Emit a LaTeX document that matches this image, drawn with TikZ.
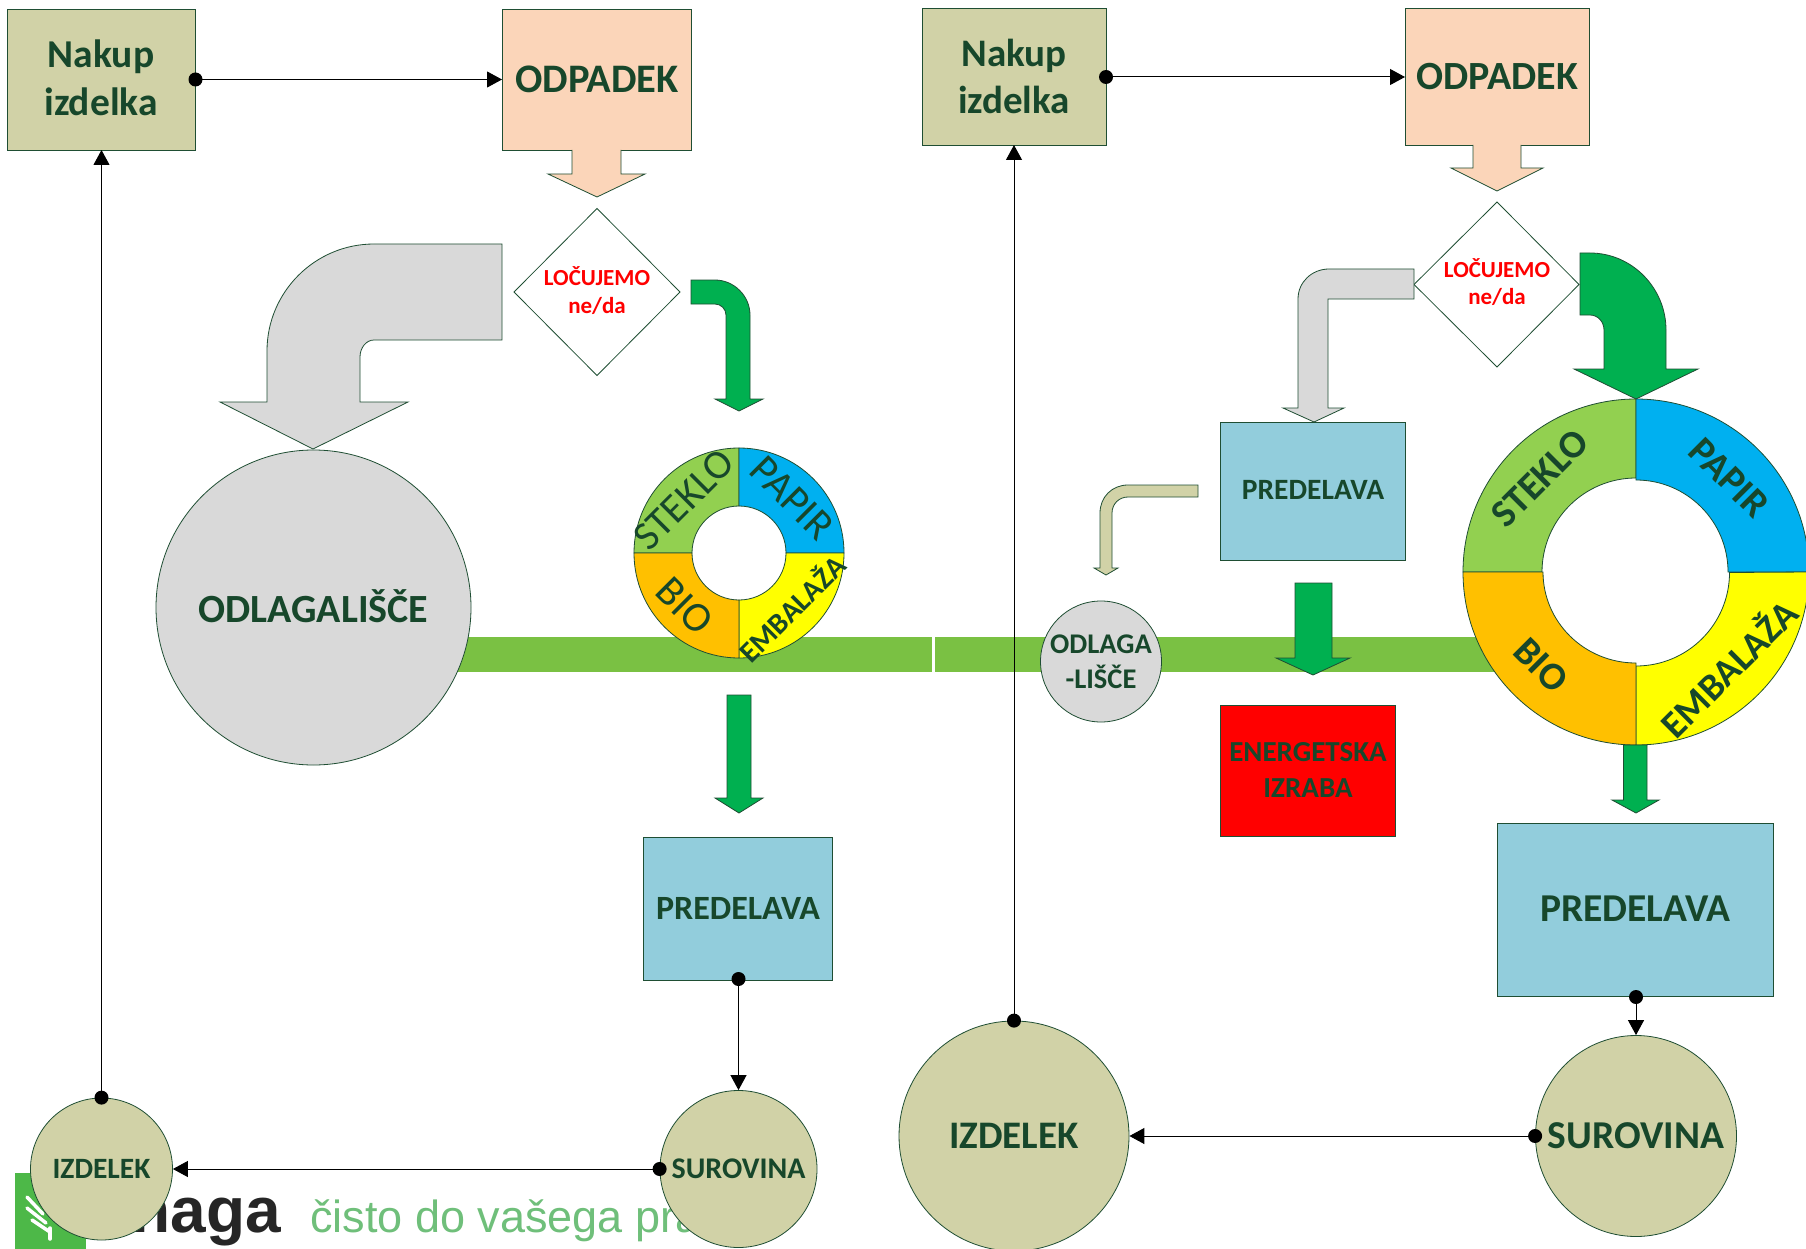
\documentclass[tikz,border=0pt]{standalone}
\usepackage{fontspec}
\setmainfont{Carlito}
\newfontfamily\logofont{Liberation Sans}
\usetikzlibrary{arrows.meta,shapes.geometric}
\definecolor{edge}{HTML}{1F4E33}
\definecolor{ink}{HTML}{17472B}
\definecolor{beige}{HTML}{D1D2A7}
\definecolor{peach}{HTML}{FBD5B9}
\definecolor{steel}{HTML}{92CDDC}
\definecolor{lgray}{HTML}{D9D9D9}
\definecolor{agreen}{HTML}{00B050}
\definecolor{band}{HTML}{7AC143}
\definecolor{slogan}{HTML}{6FBF7A}
\definecolor{logogreen}{HTML}{4DB848}
\definecolor{lime}{RGB}{146,208,80}
\definecolor{sky}{RGB}{0,176,240}
\definecolor{amber}{RGB}{255,192,0}
\definecolor{yell}{RGB}{255,255,0}
\definecolor{pure}{RGB}{255,0,0}
\newcommand{\fs}[1]{\fontsize{#1}{#1}\selectfont}
\tikzset{
  x=1pt,y=-1pt,
  rnd/.style={draw=edge,line width=0.8pt,circle,inner sep=0pt,minimum size=#1,align=center,font=\bfseries,text=ink},
  blk/.style={draw=edge,line width=0.8pt},
  label/.style={text=ink,font=\bfseries,inner sep=0pt,align=center},
  conn/.style={draw=black,line width=1pt},
  dot/.style={circle,fill=black,inner sep=0pt,minimum size=14pt},
  head/.style={-{Triangle[length=15pt,width=16pt]}},
  seg/.style={draw=edge,line width=0.8pt},
  ring/.style={text=ink,inner sep=0pt},
  choice/.style={draw=edge,line width=0.8pt,fill=white},
  redlabel/.style={text=pure,font=\bfseries,inner sep=0pt,anchor=base}
}
\begin{document}
\begin{tikzpicture}
\useasboundingbox (0,0) rectangle (1806,1249);
\fill[white] (0,0) rectangle (1806,1249);

% band
\fill[band] (313,637) rectangle (932,672);
\fill[band] (935,637) rectangle (1500,672);

% logo
\fill[logogreen] (15,1173) rectangle (86,1249);
\draw[white,line width=3.5pt,line cap=round] (27,1197) -- (43,1214);
\draw[white,line width=3.5pt,line cap=round] (27,1208) -- (46,1223);
\draw[white,line width=3.5pt,line cap=round] (32,1220) -- (50,1232);
\draw[white,line width=3.5pt,line cap=round] (50,1228) -- (50,1239);
\node[inner sep=0pt,anchor=base east,text=black!85] (logoname) at (281,1232) {\logofont\bfseries\fs{64}Snaga};
\node[inner sep=0pt,anchor=base west,text=slogan] (logotext) at (310,1232) {\logofont\fs{45}čisto do vašega pra};

% left boxes
\path[blk,fill=beige] (7,9) rectangle (195.5,150);
\node[label,font=\bfseries\fontsize{39.5}{48}\selectfont] (nakA) at (101,78) {Nakup\\izdelka};
\path[blk,fill=peach] (502,9) rectangle (691,150);
\node[label] (odpA) at (597,79.5) {\fs{40.5}ODPADEK};
\coordinate (nakAr) at (195.5,79.5);
\coordinate (odpAl) at (502,79.5);
\coordinate (nakAb) at (101.5,150);
\path[blk,fill=peach] (572,150) -- (572,174) -- (548,174) -- (597,197) -- (645,174) -- (621,174) -- (621,150);
\path[choice] (597,208.5) -- (680,292) -- (597,375.5) -- (514,292) -- cycle;
\node[redlabel] (lojA) at (597,285) {\fs{23}LOČUJEMO};
\node[redlabel] (neA) at (597,313) {\fs{23}ne/da};

\path[blk,fill=lgray] (502,244) -- (374,244) .. controls (315,244) and (267,292) .. (267,351) -- (267,402) -- (220,402) -- (313,449) -- (408,402) -- (360,402) -- (360,357) .. controls (360,348) and (366,340) .. (374,340) -- (502,340) -- cycle;
\path[blk,fill=agreen] (691,280) -- (715,280) .. controls (734,280) and (750,296) .. (750,315) -- (750,399) -- (763,399) -- (739,411) -- (715,399) -- (726,399) -- (726,315) .. controls (726,309) and (721,304) .. (715,304) -- (691,304) -- cycle;

\node[rnd=315pt,fill=lgray] (odlA) at (313.5,607.5) {\raisebox{3pt}{\fs{40}ODLAGALIŠČE}};

% small donut
\path[seg,fill=lime] (634,553) arc[start angle=180,end angle=270,radius=105] -- (739,506) arc[start angle=270,end angle=180,radius=47] -- cycle;
\path[seg,fill=sky] (739,448) arc[start angle=270,end angle=360,radius=105] -- (786,553) arc[start angle=360,end angle=270,radius=47] -- cycle;
\path[seg,fill=yell] (844,553) arc[start angle=0,end angle=90,radius=105] -- (739,600) arc[start angle=90,end angle=0,radius=47] -- cycle;
\path[seg,fill=amber] (739,658) arc[start angle=90,end angle=180,radius=105] -- (692,553) arc[start angle=180,end angle=90,radius=47] -- cycle;
\node[ring,rotate=45] (stkA) at (684,500) {\fs{41}STEKLO};
\node[ring,rotate=-45] (papA) at (792,498) {\fs{42}PAPIR};
\node[ring,rotate=-45] (bioA) at (685,606) {\fs{42}BIO};
\node[ring,rotate=45,font=\bfseries] (embA) at (791,608) {\fs{29.5}EMBALAŽA};

\path[blk,fill=agreen] (727,695) -- (751,695) -- (751,798) -- (763,798) -- (739,813) -- (715,798) -- (727,798) -- cycle;

\path[blk,fill=steel] (643.5,837) rectangle (832.5,980);
\node[label] (preA) at (738,908) {\fs{34}PREDELAVA};
\coordinate (preAb) at (738.5,979);
\node[rnd=157pt,fill=beige] (surA) at (738.5,1169) {\fs{30}SUROVINA};
\node[rnd=142pt,fill=beige] (izdA) at (101.5,1169) {\fs{29.5}IZDELEK};

\draw[conn,head] (nakAr) -- (odpAl);
\node[dot] at (nakAr) {};
\draw[conn,head] (preAb) -- (surA.north);
\node[dot] at (preAb) {};
\draw[conn,head] (surA.west) -- (izdA.east);
\node[dot] at (surA.west) {};
\draw[conn,head] (izdA.north) -- (nakAb);
\node[dot] at (izdA.north) {};

% right boxes
\path[blk,fill=beige] (922,8) rectangle (1106,145);
\node[label,font=\bfseries\fontsize{39}{47}\selectfont] (nakB) at (1014,76) {Nakup\\izdelka};
\path[blk,fill=peach] (1405,8) rectangle (1589.5,145);
\node[label] (odpB) at (1497.5,77) {\fs{40}ODPADEK};
\coordinate (nakBr) at (1106,77);
\coordinate (odpBl) at (1405,77);
\coordinate (nakBb) at (1014,145);
\path[blk,fill=peach] (1473,145) -- (1473,168) -- (1451,168) -- (1497,191) -- (1543,168) -- (1521,168) -- (1521,145);
\path[choice] (1497,202) -- (1579,284.5) -- (1497,367) -- (1414,284.5) -- cycle;
\node[redlabel] (lojB) at (1497,277) {\fs{23}LOČUJEMO};
\node[redlabel] (neB) at (1497,305) {\fs{23}ne/da};

\path[blk,fill=lgray] (1414,269) -- (1329,269) .. controls (1312,269) and (1298,282) .. (1298,299) -- (1298,408) -- (1283,408) -- (1314,422) -- (1344,408) -- (1328,408) -- (1328,299) -- (1414,299) -- cycle;
\path[blk,fill=agreen] (1580,253) -- (1590,253) .. controls (1632,253) and (1666,288) .. (1666,330) -- (1666,369) -- (1698,369) -- (1636,399) -- (1574,369) -- (1604,369) -- (1604,330) .. controls (1604,322) and (1598,315) .. (1590,315) -- (1580,315) -- cycle;

\path[blk,fill=steel] (1220.5,422) rectangle (1405.5,560);
\node[label] (preB) at (1313,490) {\fs{29.5}PREDELAVA};
\path[blk,fill=beige] (1198,485) -- (1128,485) .. controls (1112,485) and (1100,497) .. (1100,513) -- (1100,568) -- (1094,568) -- (1106,575) -- (1118,568) -- (1112,568) -- (1112,513) .. controls (1112,504) and (1119,497) .. (1128,497) -- (1198,497) -- cycle;
\node[rnd=121pt,fill=lgray,font=\bfseries\fontsize{28.5}{35}\selectfont] (odlB) at (1101,661.5) {ODLAGA\\-LIŠČE};
\path[blk,fill=agreen] (1295,583) -- (1332,583) -- (1332,658) -- (1350,658) -- (1313,675) -- (1276,658) -- (1295,658) -- cycle;
\path[blk,fill=pure] (1220.5,705) rectangle (1395.5,836);
\node[label,font=\bfseries\fontsize{29}{36}\selectfont] (eneB) at (1308,770) {ENERGETSKA\\IZRABA};

% big donut
\path[seg,fill=lime] (1463,572) arc[start angle=180,end angle=270,radius=173] -- (1636,478) arc[start angle=270,end angle=180,radius=94] -- cycle;
\path[seg,fill=sky] (1636,399) arc[start angle=270,end angle=360,radius=173] -- (1728,572) arc[start angle=360,end angle=270,radius=92] -- cycle;
\path[seg,fill=yell] (1809,572) arc[start angle=0,end angle=90,radius=173] -- (1636,666) arc[start angle=90,end angle=0,radius=93.5] -- cycle;
\path[seg,fill=amber] (1636,745) arc[start angle=90,end angle=180,radius=173] -- (1543,572) arc[start angle=180,end angle=90,x radius=93,y radius=91] -- cycle;
\node[ring,rotate=45,font=\bfseries] (stkB) at (1540,478) {\fs{39}STEKLO};
\node[ring,rotate=-45,font=\bfseries] (papB) at (1729,478) {\fs{39}PAPIR};
\node[ring,rotate=-45,font=\bfseries] (bioB) at (1541,665) {\fs{39}BIO};
\node[ring,rotate=45,font=\bfseries] (embB) at (1727.5,667) {\fs{38}EMBALAŽA};

\path[blk,fill=agreen] (1623.5,745) -- (1647,745) -- (1647,800) -- (1659,800) -- (1636,813) -- (1612,800) -- (1623.5,800) -- cycle;
\path[blk,fill=steel] (1497,823) rectangle (1773.5,996);
\node[label] (preC) at (1635.5,909) {\fs{39.5}PREDELAVA};
\coordinate (preCb) at (1636,997);
\node[rnd=201pt,fill=beige] (surB) at (1636,1136) {\fs{39.5}SUROVINA};
\node[rnd=230pt,fill=beige] (izdB) at (1014,1136) {\fs{39}IZDELEK};

\draw[conn,head] (nakBr) -- (odpBl);
\node[dot] at (nakBr) {};
\draw[conn,head] (preCb) -- (surB.north);
\node[dot] at (preCb) {};
\draw[conn,head] (surB.west) -- (izdB.east);
\node[dot] at (surB.west) {};
\draw[conn,head] (izdB.north) -- (nakBb);
\node[dot] at (izdB.north) {};
\end{tikzpicture}
\end{document}
